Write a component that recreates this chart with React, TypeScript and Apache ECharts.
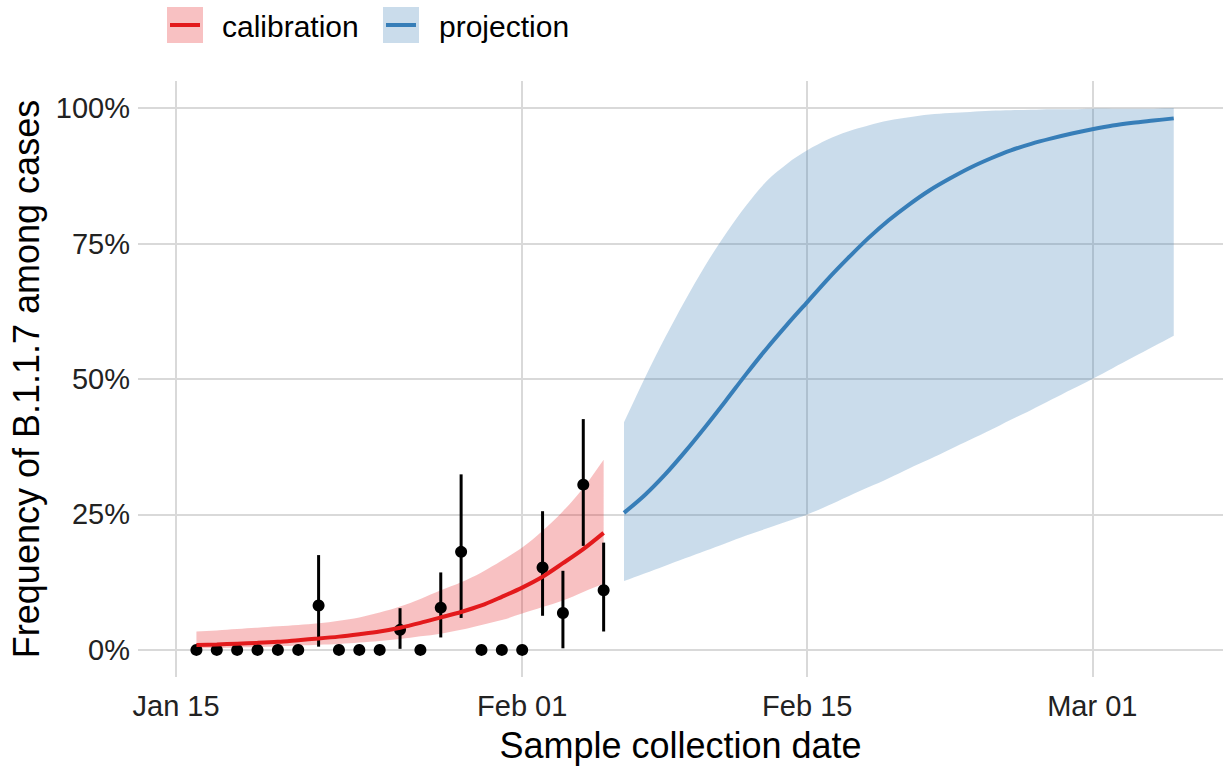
import React, { useEffect, useRef } from "react";
import * as echarts from "echarts";

// x values are days since Jan 15 (2021)
const xTickValues = [0, 17, 31, 45];
const xTickLabels = ["Jan 15", "Feb 01", "Feb 15", "Mar 01"];
const yTickValues = [0, 25, 50, 75, 100];

const obsDays = [1, 2, 3, 4, 5, 6, 7, 8, 9, 10, 11, 12, 13, 14, 15, 16, 17, 18, 19, 20, 21];
const obsFreq = [0, 0, 0, 0, 0, 0, 8.2, 0, 0, 0, 3.7, 0, 7.8, 18.1, 0, 0, 0, 15.2, 6.8, 30.5, 11.0];

const errDays = [7, 11, 13, 14, 18, 19, 20, 21];
const errLow = [0.6, 0.2, 2.3, 5.9, 6.3, 0.3, 19.2, 3.4];
const errHigh = [17.5, 7.7, 14.3, 32.4, 25.6, 14.6, 42.6, 19.8];

const calDays = [1, 2, 3, 4, 5, 6, 7, 8, 9, 10, 11, 12, 13, 14, 15, 16, 17, 18, 19, 20, 21];
const calMid = [0.9, 1.0, 1.15, 1.3, 1.5, 1.8, 2.1, 2.45, 2.9, 3.4, 4.1, 5.0, 6.0, 7.0, 8.2, 9.8, 11.5, 13.5, 16.0, 18.6, 21.6];
const calLow = [0.3, 0.35, 0.45, 0.55, 0.65, 0.8, 0.95, 1.1, 1.35, 1.65, 2.0, 2.5, 3.0, 3.7, 4.6, 5.5, 6.7, 7.9, 9.1, 10.7, 12.2];
const calHigh = [3.4, 3.6, 3.85, 4.1, 4.35, 4.6, 4.9, 5.4, 6.0, 6.9, 8.0, 9.4, 11.0, 12.5, 14.3, 16.5, 18.9, 22.0, 25.6, 29.9, 35.1];

const projDays = [22, 23, 24, 25, 26, 27, 28, 29, 30, 31, 32, 33, 34, 35, 36, 37, 38, 39, 40, 41, 42, 43, 44, 45, 46, 47, 48, 49];
const projMid = [25.3, 28.5, 32.3, 36.6, 41.2, 46.0, 50.9, 55.6, 60.0, 64.2, 68.4, 72.3, 76.0, 79.3, 82.2, 84.8, 87.0, 89.0, 90.7, 92.2, 93.4, 94.4, 95.3, 96.1, 96.8, 97.3, 97.7, 98.1];
const projLow = [12.7, 14.1, 15.5, 16.9, 18.3, 19.7, 21.1, 22.4, 23.7, 25.0, 26.6, 28.3, 30.0, 31.7, 33.5, 35.2, 37.0, 38.8, 40.6, 42.5, 44.3, 46.2, 48.1, 50.0, 52.0, 54.0, 56.0, 58.0];
const projHigh = [42.0, 50.0, 57.5, 64.5, 71.0, 76.8, 82.0, 86.5, 89.7, 92.2, 94.2, 95.7, 96.8, 97.7, 98.3, 98.8, 99.1, 99.3, 99.5, 99.6, 99.7, 99.8, 99.8, 99.9, 99.9, 99.9, 99.9, 100.0];

const legendNames = ["calibration", "projection"];

const RED = "#e31a1c";
const RED_FILL = "rgba(228,26,28,0.27)";
const BLUE = "#377eb8";
const BLUE_FILL = "rgba(60,125,180,0.27)";
const FONT = "'Liberation Sans', Arial, Helvetica, sans-serif";
const GRID = "#d9d9d9";

function ribbonSeries(days: number[], low: number[], high: number[], fill: string) {
  return {
    type: "custom",
    silent: true,
    clip: true,
    encode: { x: 0, y: [1, 2] },
    data: days.map((d, i) => [d, low[i], high[i]]),
    renderItem: (params: any, api: any) => {
      if (params.dataIndex !== 0) return null;
      const upper = days.map((d, i) => api.coord([d, high[i]]));
      const lower = days.map((d, i) => api.coord([d, low[i]])).reverse();
      // duplicate the corner points so smoothing keeps the vertical ends straight
      const dup = (arr: number[][]) => [arr[0], ...arr, arr[arr.length - 1]];
      return {
        type: "polygon",
        shape: { points: dup(upper).concat(dup(lower)), smooth: 0.35 },
        style: { fill, stroke: "none" },
      };
    },
  };
}

export default function App() {
  const ref = useRef<HTMLDivElement>(null);

  useEffect(() => {
    document.body.style.margin = "0";
    if (!ref.current) return;
    const chart = echarts.init(ref.current, undefined, { renderer: "svg" });

    const option: any = {
      animation: false,
      backgroundColor: "#ffffff",
      textStyle: { fontFamily: FONT },
      grid: { left: 138, right: 2, top: 81, height: 599, containLabel: false },
      xAxis: {
        type: "value",
        min: -1.87,
        max: 51.42,
        axisLine: { show: false },
        axisTick: { show: false, customValues: xTickValues },
        splitLine: { show: true, lineStyle: { color: GRID, width: 2 } },
        axisLabel: {
          customValues: xTickValues,
          formatter: (v: number) => {
            const i = xTickValues.indexOf(Math.round(v));
            return i >= 0 ? xTickLabels[i] : "";
          },
          fontSize: 29,
          color: "#222",
          margin: 14,
          fontFamily: FONT,
        },
        name: "Sample collection date",
        nameLocation: "middle",
        nameGap: 50,
        nameTextStyle: { fontSize: 36, color: "#000", fontFamily: FONT },
      },
      yAxis: {
        type: "value",
        min: -5,
        max: 105,
        axisLine: { show: false },
        axisTick: { show: false, customValues: yTickValues },
        splitLine: { show: true, lineStyle: { color: GRID, width: 2 } },
        axisLabel: {
          customValues: yTickValues,
          formatter: (v: number) => `${Math.round(v)}%`,
          fontSize: 29,
          color: "#222",
          margin: 8,
          fontFamily: FONT,
        },
        name: "Frequency of B.1.1.7 among cases",
        nameLocation: "middle",
        nameGap: 86,
        nameTextStyle: { fontSize: 36, color: "#000", fontFamily: FONT },
      },
      series: [
        ribbonSeries(calDays, calLow, calHigh, RED_FILL),
        ribbonSeries(projDays, projLow, projHigh, BLUE_FILL),
        {
          name: legendNames[0],
          type: "line",
          symbol: "none",
          smooth: 0.3,
          lineStyle: { color: RED, width: 4 },
          data: calDays.map((d, i) => [d, calMid[i]]),
        },
        {
          name: legendNames[1],
          type: "line",
          symbol: "none",
          smooth: 0.3,
          lineStyle: { color: BLUE, width: 4 },
          data: projDays.map((d, i) => [d, projMid[i]]),
        },
        {
          type: "custom",
          silent: true,
          encode: { x: 0, y: [1, 2] },
          data: errDays.map((d, i) => [d, errLow[i], errHigh[i]]),
          renderItem: (params: any, api: any) => {
            const x = api.value(0);
            const p1 = api.coord([x, api.value(1)]);
            const p2 = api.coord([x, api.value(2)]);
            return {
              type: "line",
              shape: { x1: p1[0], y1: p1[1], x2: p2[0], y2: p2[1] },
              style: { stroke: "#000", lineWidth: 3 },
            };
          },
        },
        {
          type: "scatter",
          symbol: "circle",
          symbolSize: 12,
          itemStyle: { color: "#000", opacity: 1 },
          data: obsDays.map((d, i) => [d, obsFreq[i]]),
        },
      ],
      graphic: [
        { type: "rect", shape: { x: 167, y: 7, width: 36, height: 36 }, style: { fill: RED_FILL } },
        { type: "line", shape: { x1: 170, y1: 25, x2: 200, y2: 25 }, style: { stroke: RED, lineWidth: 4 } },
        {
          type: "text",
          x: 222,
          y: 26,
          style: { text: legendNames[0], font: `30px ${FONT}`, fill: "#000", verticalAlign: "middle" },
        },
        { type: "rect", shape: { x: 383, y: 7, width: 36, height: 36 }, style: { fill: BLUE_FILL } },
        { type: "line", shape: { x1: 386, y1: 25, x2: 416, y2: 25 }, style: { stroke: BLUE, lineWidth: 4 } },
        {
          type: "text",
          x: 439,
          y: 26,
          style: { text: legendNames[1], font: `30px ${FONT}`, fill: "#000", verticalAlign: "middle" },
        },
      ],
    };

    chart.setOption(option);
    return () => chart.dispose();
  }, []);

  return <div ref={ref} style={{ width: 1225, height: 768 }} />;
}
